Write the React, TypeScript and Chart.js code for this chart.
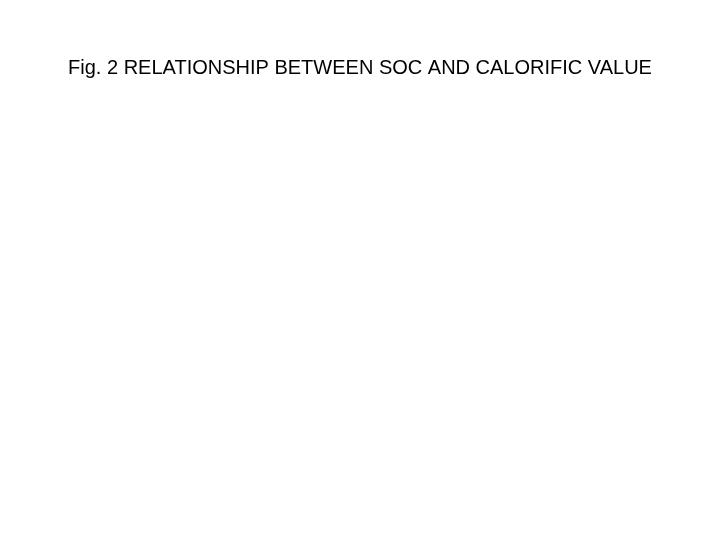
import React, { useEffect, useRef } from "react";
import { Chart, registerables } from "chart.js";

Chart.register(...registerables);

const titleText = "Fig. 2 RELATIONSHIP BETWEEN SOC AND CALORIFIC VALUE";
// The reference shows an empty plot: no visible points, axes or ticks.
const socValues: number[] = [];
const calorificValues: number[] = [];

export default function App() {
  const ref = useRef<HTMLCanvasElement | null>(null);

  useEffect(() => {
    document.body.style.margin = "0";
    const ctx = ref.current;
    if (!ctx) return;
    const chart = new Chart(ctx, {
      type: "scatter",
      data: {
        datasets: [
          {
            label: "SOC vs calorific value",
            data: socValues.map((x, i) => ({ x, y: calorificValues[i] })),
            backgroundColor: "#000",
          },
        ],
      },
      options: {
        animation: false,
        responsive: false,
        devicePixelRatio: 1,
        layout: { padding: 0 },
        plugins: {
          legend: { display: false },
          tooltip: { enabled: false },
          title: {
            display: true,
            text: titleText,
            color: "#000",
            font: { family: "Liberation Sans, Arial, sans-serif", size: 20, weight: "normal" },
            padding: { top: 56, bottom: 10 },
          },
        },
        scales: {
          x: { display: false },
          y: { display: false },
        },
      },
    });
    return () => chart.destroy();
  }, []);

  return (
    <div style={{ position: "absolute", left: 0, top: 0, width: 720, height: 540, background: "#fff" }}>
      <canvas ref={ref} width={720} height={540} />
    </div>
  );
}
